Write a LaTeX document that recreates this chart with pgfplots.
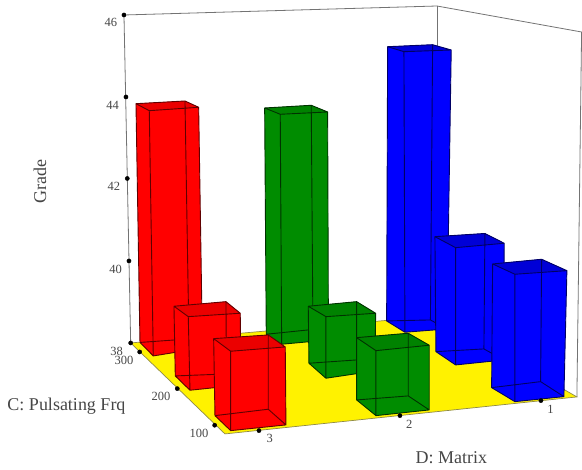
\documentclass[border=0pt]{standalone}
\usepackage{fontspec}
\setmainfont{Liberation Serif}
\usepackage{pgfplots}
\pgfplotsset{compat=1.18}
\definecolor{bred}{RGB}{255,0,0}
\definecolor{ered}{RGB}{95,0,0}
\definecolor{tred}{RGB}{235,0,0}
\definecolor{bgreen}{RGB}{0,140,0}
\definecolor{egreen}{RGB}{0,50,0}
\definecolor{tgreen}{RGB}{0,130,0}
\definecolor{bblue}{RGB}{0,0,255}
\definecolor{eblue}{RGB}{0,0,100}
\definecolor{tblue}{RGB}{0,0,215}
\definecolor{txt}{RGB}{70,70,70}
% args: top left, back, right, front (#1-#4); bottom left, back, right, front (#5-#8)
\newcommand{\mkcube}[4]{%
  \newcommand#1[8]{%
    \addplot[fill=#2,draw=none,forget plot] coordinates {##1 ##2 ##3 ##7 ##8 ##5} -- cycle;
    \addplot[fill=#4,draw=none,forget plot] coordinates {##1 ##2 ##3 ##4} -- cycle;
    \addplot[draw=#3,line width=0.9pt,line join=round,forget plot] coordinates {##5 ##6 ##7 ##8 ##5 ##1 ##2 ##6 ##2 ##3 ##7 ##3 ##4 ##8 ##4 ##1};
  }%
}
\mkcube{\redbar}{bred}{ered}{tred}
\mkcube{\greenbar}{bgreen}{egreen}{tgreen}
\mkcube{\bluebar}{bblue}{eblue}{tblue}
\begin{document}
\begin{tikzpicture}
\begin{axis}[
  scale only axis, width=582pt, height=470pt,
  xmin=0, xmax=582, ymin=0, ymax=470, y dir=reverse,
  hide axis, clip=false]
% invisible corners keep the page at the reference's size
\addplot[draw=none,forget plot] coordinates {(0,0) (582,470)};
% wall lines
\addplot[draw=gray!90!black,line width=0.8pt,forget plot] coordinates {(130.7,343) (124,15) (437,6) (581.7,32) (577,397)};
\addplot[draw=gray!90!black,line width=0.8pt,forget plot] coordinates {(437,6) (437,60)};
% floor
\addplot[fill=yellow,draw=black!50!yellow,line width=0.7pt,forget plot] coordinates {(130.7,343) (437,316) (577,397) (225,434)} -- cycle;
% back row
\redbar{(136,103.7)}{(185,101)}{(198.7,107.3)}{(149.3,110.7)}{(140,342.5)}{(189,339)}{(202.5,348)}{(153.3,356)}
\greenbar{(264.7,108)}{(311.3,105.3)}{(327.7,112)}{(280.3,114.3)}{(266.3,334.3)}{(313,329.5)}{(328.5,340)}{(281.7,344.3)}
\bluebar{(387.7,46.7)}{(432.7,44.7)}{(451.3,50)}{(404,51.7)}{(386.7,321)}{(430.5,320)}{(447,329)}{(405,332.3)}
% middle row
\redbar{(174,306.3)}{(226,301.7)}{(240.3,313.3)}{(188.3,316.7)}{(175.3,376)}{(226.5,374)}{(241,385)}{(190,390.3)}
\greenbar{(308.3,306.3)}{(356.7,301.7)}{(375.7,313.3)}{(326,316.7)}{(309,363.3)}{(356.7,360)}{(375,371)}{(326,378.3)}
\bluebar{(435,236.7)}{(485,233.5)}{(504.3,243.3)}{(455.7,247.7)}{(436,351.7)}{(484,349)}{(504,360)}{(455.7,365)}
% front row
\redbar{(213.7,338.7)}{(268.3,335)}{(285.3,347)}{(230.7,351.3)}{(215,415.7)}{(268.3,409.3)}{(286,425)}{(230.7,430.7)}
\greenbar{(356.7,337.7)}{(408.3,333.3)}{(429.3,345.3)}{(376,350.7)}{(356.7,400)}{(408.3,396)}{(429.3,410)}{(376,415.7)}
\bluebar{(492.7,264)}{(541.7,259.3)}{(567,270.7)}{(515,274.3)}{(491.7,387.7)}{(540.7,381.7)}{(564,396.7)}{(515,401.7)}
% tick dots
\addplot[only marks,mark=*,mark size=2.1pt,black,forget plot] coordinates {(124,15) (126,97) (127.3,178.5) (129,261) (130.7,343) (139.7,352) (177.3,388.7) (214.7,425.3) (259,430.7) (400,415.7) (541,400.7)};
% labels
\begin{scope}[every node/.style={text=txt,inner sep=0pt,font=\fontsize{12.5}{13}\selectfont}]
\node at (axis cs:111,22.7) {46};
\node at (axis cs:112.7,105) {44};
\node at (axis cs:114,186.7) {42};
\node at (axis cs:115.7,269) {40};
\node at (axis cs:116.7,351) {38};
\node at (axis cs:124,360) {300};
\node at (axis cs:161,396.3) {200};
\node at (axis cs:199,433.3) {100};
\node at (axis cs:269.7,438.3) {3};
\node at (axis cs:409.3,424) {2};
\node at (axis cs:550.7,409) {1};
\end{scope}
\begin{scope}[every node/.style={text=txt,inner sep=0pt,font=\fontsize{18}{19}\selectfont}]
\node[rotate=90] at (axis cs:40,182) {Grade};
\node at (axis cs:66.5,406) {C: Pulsating Frq};
\node at (axis cs:451.5,458) {D: Matrix};
\end{scope}
\end{axis}
\end{tikzpicture}
\end{document}
